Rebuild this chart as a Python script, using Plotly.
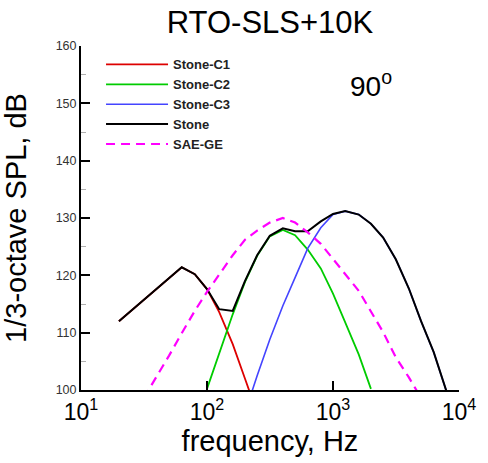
import plotly.graph_objects as go

# 1/3-octave band centre frequencies (Hz)
freq = [20, 25, 31.5, 40, 50, 63, 80, 100, 125, 160, 200, 250, 315, 400, 500,
        630, 800, 1000, 1250, 1600, 2000, 2500, 3150, 4000, 5000, 6300, 8000]

# Stone (total), dB
stone = [112.0, 113.8, 115.7, 117.6, 119.4, 121.4, 120.2, 117.6, 114.1, 113.8,
         119.0, 123.5, 126.9, 128.2, 127.7, 127.7, 129.4, 130.7, 131.2, 130.6,
         129.0, 126.6, 122.8, 117.7, 112.0, 106.6, 99.6]

# Stone-C1 (20 .. 250 Hz)
c1_freq = freq[0:12]
c1 = [112.0, 113.8, 115.7, 117.6, 119.4, 121.4, 120.2, 117.6, 113.6, 108.0,
      102.0, 96.0]

# Stone-C2 (100 .. 2000 Hz)
c2_freq = freq[7:21]
c2 = [100.2, 106.2, 113.2, 118.8, 123.4, 126.8, 127.9, 127.0, 124.5, 121.2,
      116.8, 111.8, 106.2, 100.2]

# Stone-C3 (200 .. 8000 Hz)
c3_freq = freq[10:]
c3 = [96.0, 102.5, 108.8, 114.7, 119.6, 124.7, 128.3, 130.6, 131.2, 130.6,
      129.0, 126.6, 122.8, 117.7, 112.0, 106.6, 99.6]

# SAE-GE (31.5 .. 5000 Hz)
sae_freq = freq[2:25]
sae = [98.6, 102.4, 106.0, 109.9, 113.8, 117.1, 120.2, 123.5, 126.2, 127.8,
       129.2, 130.0, 129.2, 127.5, 125.5, 122.9, 120.2, 117.3, 113.7, 110.1,
       105.7, 102.2, 98.6]

x_tickvals = [10, 100, 1000, 10000]
x_ticktext = ["10<sup>1</sup>", "10<sup>2</sup>", "10<sup>3</sup>", "10<sup>4</sup>"]

FONT = "Liberation Sans, Arial, Helvetica, sans-serif"

fig = go.Figure()
fig.add_trace(go.Scatter(x=c1_freq, y=c1, mode="lines", name="Stone-C1",
                         line=dict(color="#dd0000", width=1.8)))
fig.add_trace(go.Scatter(x=c2_freq, y=c2, mode="lines", name="Stone-C2",
                         line=dict(color="#00cc00", width=1.8)))
fig.add_trace(go.Scatter(x=c3_freq, y=c3, mode="lines", name="Stone-C3",
                         line=dict(color="#4444ff", width=1.6)))
fig.add_trace(go.Scatter(x=freq, y=stone, mode="lines", name="Stone",
                         line=dict(color="black", width=2)))
fig.add_trace(go.Scatter(x=sae_freq, y=sae, mode="lines", name="SAE-GE",
                         line=dict(color="#ff00ff", width=2.2, dash="9px,6px")))

fig.update_layout(
    width=488, height=463,
    margin=dict(l=81, r=19, t=46, b=62),
    paper_bgcolor="white", plot_bgcolor="white",
    font=dict(family=FONT, color="black"),
    title=dict(text="RTO-SLS+10K", x=0.5, xref="paper", xanchor="center",
               y=1 - 22 / 463, yref="container", yanchor="middle",
               font=dict(size=31, family=FONT, color="black")),
    showlegend=True,
    legend=dict(x=0.053, y=0.99, xanchor="left", yanchor="top",
                bgcolor="rgba(0,0,0,0)", borderwidth=0, itemwidth=62,
                font=dict(size=13, family=FONT, color="#222", weight="bold")),
    xaxis=dict(type="log", range=[1, 4], tickvals=x_tickvals, ticktext=x_ticktext,
               ticks="inside", ticklen=9, tickwidth=2, tickcolor="black",
               showline=True, linewidth=2, linecolor="black", mirror=False,
               showgrid=False, zeroline=False,
               tickfont=dict(size=23, family=FONT, color="black"),
               title=dict(text="frequency, Hz", standoff=6,
                          font=dict(size=29, family=FONT, color="black"))),
    yaxis=dict(range=[100, 160], dtick=10, tick0=100,
               ticks="inside", ticklen=9, tickwidth=2, tickcolor="black",
               minor=dict(dtick=5, ticks="inside", ticklen=5, tickwidth=1,
                          tickcolor="#b0b0b0", showgrid=False),
               showline=True, linewidth=2, linecolor="black", mirror=False,
               showgrid=False, zeroline=False,
               tickfont=dict(size=12.5, family=FONT, color="#333"),
               title=dict(text="1/3-octave SPL, dB", standoff=21,
                          font=dict(size=29, family=FONT, color="black"))),
    annotations=[dict(text="90<sup>o</sup>", x=0.768, y=0.89, xref="paper", yref="paper",
                      xanchor="center", yanchor="middle", showarrow=False,
                      font=dict(size=28, family=FONT, color="black"))],
)

fig.write_html("out.html", config={"displayModeBar": False},
               post_script="document.body.style.margin='0';document.body.style.overflow='hidden';")
